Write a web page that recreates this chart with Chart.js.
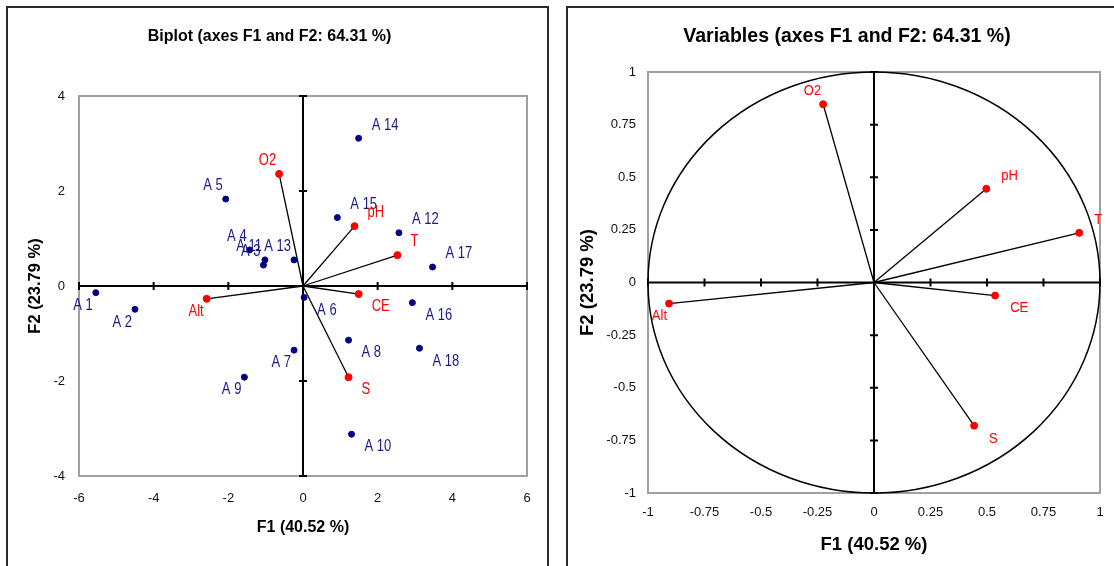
<!DOCTYPE html>
<html>
<head>
<meta charset="utf-8">
<title>PCA biplot</title>
<script src="https://cdn.jsdelivr.net/npm/chart.js@4.4.1/dist/chart.umd.min.js"></script>
<style>
    html, body { margin: 0; padding: 0; background: #fff; }
    body { width: 1114px; height: 566px; position: relative; overflow: hidden; }
    .panel { position: absolute; border: 2px solid #2a2a2a; box-sizing: border-box; }
    #leftPanel { left: 6px; top: 6px; width: 543px; height: 620px; }
    #rightPanel { left: 566px; top: 6px; width: 620px; height: 620px; }
    #biplot { position: absolute; left: 0; top: 0; }
    #circle { position: absolute; left: 557px; top: 0; }
</style>
</head>
<body>
<div class="panel" id="leftPanel"></div>
<div class="panel" id="rightPanel"></div>
<canvas id="biplot" width="557" height="566"></canvas>
<canvas id="circle" width="600" height="566"></canvas>
<script>
// Observations (factor scores on F1 / F2)
const obsLabels = ['A 1', 'A 2', 'A 3', 'A 4', 'A 5', 'A 6', 'A 7', 'A 8', 'A 9',
                   'A 10', 'A 11', 'A 12', 'A 13', 'A 14', 'A 15', 'A 16', 'A 17', 'A 18'];
const obsF1 = [-5.55, -4.50, -1.06, -1.43, -2.07, 0.03, -0.24, 1.22, -1.57,
               1.30, -1.02, 2.57, -0.24, 1.49, 0.92, 2.93, 3.47, 3.12];
const obsF2 = [-0.14, -0.49, 0.44, 0.76, 1.83, -0.24, -1.35, -1.14, -1.92,
               -3.12, 0.55, 1.12, 0.55, 3.11, 1.44, -0.35, 0.40, -1.31];

// Variables: position in the biplot and in the correlation circle
const varLabels = ['pH', 'T', 'CE', 'O2', 'S', 'Alt'];
const varBiF1 = [1.38, 2.53, 1.49, -0.64, 1.22, -2.58];
const varBiF2 = [1.26, 0.65, -0.17, 2.36, -1.92, -0.27];
const varCorF1 = [0.497, 0.908, 0.536, -0.225, 0.443, -0.907];
const varCorF2 = [0.445, 0.236, -0.062, 0.847, -0.680, -0.100];

// Tick values
const biplotXTicks = [-6, -4, -2, 0, 2, 4, 6];
const biplotYTicks = [-4, -2, 0, 2, 4];
const circleTicks = [-1, -0.75, -0.5, -0.25, 0, 0.25, 0.5, 0.75, 1];

const SANS = '"Liberation Sans", Arial, sans-serif';

// frame, zero axes with tick marks, optional unit circle, point labels
const pcaDecor = {
    id: 'pcaDecor',
    beforeDatasetsDraw(chart, args, opts) {
        const { ctx, chartArea: a, scales: { x, y } } = chart;
        const x0 = x.getPixelForValue(0);
        const y0 = y.getPixelForValue(0);
        ctx.save();
        ctx.strokeStyle = '#a0a0a0';
        ctx.lineWidth = 2;
        ctx.strokeRect(a.left, a.top, a.width, a.height);

        if (opts.circle) {
            const rx = x.getPixelForValue(1) - x0;
            const ry = y0 - y.getPixelForValue(1);
            ctx.beginPath();
            ctx.ellipse(x0, y0, rx, ry, 0, 0, Math.PI * 2);
            ctx.strokeStyle = '#000';
            ctx.lineWidth = 1.5;
            ctx.stroke();
        }

        ctx.strokeStyle = '#000';
        ctx.lineWidth = 2;
        ctx.beginPath();
        ctx.moveTo(a.left, y0);
        ctx.lineTo(a.right, y0);
        ctx.moveTo(x0, a.top);
        ctx.lineTo(x0, a.bottom);
        x.ticks.forEach(t => {
            const px = x.getPixelForValue(t.value);
            ctx.moveTo(px, y0 - 4);
            ctx.lineTo(px, y0 + 4);
        });
        y.ticks.forEach(t => {
            const py = y.getPixelForValue(t.value);
            ctx.moveTo(x0 - 4, py);
            ctx.lineTo(x0 + 4, py);
        });
        ctx.stroke();
        ctx.restore();
    },
    afterDatasetsDraw(chart, args, opts) {
        const ctx = chart.ctx;
        chart.data.datasets.forEach((ds, di) => {
            if (!ds.labels) return;
            const meta = chart.getDatasetMeta(di);
            meta.data.forEach((el, i) => {
                const v = ds.data[i];
                const left = v.x < 0;
                const tx = el.x + (left ? -opts.leftGap : opts.rightGap);
                const ty = el.y + (v.y >= 0 ? -opts.vGap : opts.vGap);
                // the original labels look slightly stretched vertically
                ctx.save();
                ctx.translate(tx, ty);
                ctx.scale(1, opts.stretch || 1);
                ctx.fillStyle = ds.labelColor;
                ctx.font = ds.labelFont;
                ctx.textBaseline = 'middle';
                ctx.textAlign = left ? 'right' : 'left';
                ctx.fillText(ds.labels[i], 0, 0);
                ctx.restore();
            });
        });
    }
};

function vectorDatasets(xs, ys) {
    return xs.map((vx, i) => ({
        data: [{ x: 0, y: 0 }, { x: vx, y: ys[i] }],
        showLine: true,
        borderColor: '#000',
        borderWidth: 1.3,
        pointRadius: 0
    }));
}

function tickSetter(values) {
    return scale => { scale.ticks = values.map(v => ({ value: v })); };
}

// Left chart: biplot
new Chart(document.getElementById('biplot'), {
    type: 'scatter',
    data: {
        datasets: [
            {
                data: obsF1.map((v, i) => ({ x: v, y: obsF2[i] })),
                labels: obsLabels,
                labelColor: '#1a1a8c',
                labelFont: '13px ' + SANS,
                backgroundColor: '#000080',
                borderColor: '#000080',
                pointRadius: 3
            },
            {
                data: varBiF1.map((v, i) => ({ x: v, y: varBiF2[i] })),
                labels: varLabels,
                labelColor: '#ff0000',
                labelFont: '13px ' + SANS,
                backgroundColor: '#ff0000',
                borderColor: '#ff0000',
                pointRadius: 3.5
            },
            ...vectorDatasets(varBiF1, varBiF2)
        ]
    },
    options: {
        responsive: false,
        animation: false,
        layout: { padding: { left: 12, right: 30, top: 0, bottom: 20 } },
        plugins: {
            legend: { display: false },
            tooltip: { enabled: false },
            title: {
                display: true,
                text: 'Biplot (axes F1 and F2: 64.31 %)',
                color: '#000',
                font: { family: SANS, size: 16, weight: 'bold' },
                padding: { top: 27.4, bottom: 49.4 }
            },
            pcaDecor: { circle: false, leftGap: 3, rightGap: 13, vGap: 13, stretch: 1.2 }
        },
        scales: {
            x: {
                type: 'linear', min: -6, max: 6,
                afterBuildTicks: tickSetter(biplotXTicks),
                ticks: { padding: 15, color: '#111', font: { family: SANS, size: 13 }, callback: v => String(v) },
                grid: { display: false, drawTicks: false },
                border: { display: false },
                title: { display: true, text: 'F1 (40.52 %)', color: '#000',
                         font: { family: SANS, size: 16, weight: 'bold' }, padding: { top: 0, bottom: 8.4 } },
                afterFit: s => { s.height = 70; }
            },
            y: {
                type: 'linear', min: -4, max: 4,
                afterBuildTicks: tickSetter(biplotYTicks),
                ticks: { padding: 14, color: '#111', font: { family: SANS, size: 13 }, callback: v => String(v) },
                grid: { display: false, drawTicks: false },
                border: { display: false },
                title: { display: true, text: 'F2 (23.79 %)', color: '#000',
                         font: { family: SANS, size: 16.5, weight: 'bold' }, padding: { top: 13.1, bottom: 0 } },
                afterFit: s => { s.width = 67; }
            }
        }
    },
    plugins: [pcaDecor]
});

// Right chart: correlation circle
new Chart(document.getElementById('circle'), {
    type: 'scatter',
    data: {
        datasets: [
            {
                data: varCorF1.map((v, i) => ({ x: v, y: varCorF2[i] })),
                labels: varLabels,
                labelColor: '#ff0000',
                labelFont: '13px ' + SANS,
                backgroundColor: '#ff0000',
                borderColor: '#ff0000',
                pointRadius: 3.5
            },
            ...vectorDatasets(varCorF1, varCorF2)
        ]
    },
    options: {
        responsive: false,
        animation: false,
        layout: { padding: { left: 0, right: 20, top: 0, bottom: 7 } },
        plugins: {
            legend: { display: false },
            tooltip: { enabled: false },
            title: {
                display: true,
                text: 'Variables (axes F1 and F2: 64.31 %)',
                color: '#000',
                font: { family: SANS, size: 19.5, weight: 'bold' },
                padding: { top: 25.3, bottom: 23.3 }
            },
            pcaDecor: { circle: true, leftGap: 2, rightGap: 15, vGap: 13, stretch: 1.1 }
        },
        scales: {
            x: {
                type: 'linear', min: -1, max: 1,
                afterBuildTicks: tickSetter(circleTicks),
                ticks: { padding: 12, color: '#111', font: { family: SANS, size: 13 }, callback: v => String(v) },
                grid: { display: false, drawTicks: false },
                border: { display: false },
                title: { display: true, text: 'F1 (40.52 %)', color: '#000',
                         font: { family: SANS, size: 18.5, weight: 'bold' }, padding: { top: 0, bottom: 3 } },
                afterFit: s => { s.height = 66; }
            },
            y: {
                type: 'linear', min: -1, max: 1,
                afterBuildTicks: tickSetter(circleTicks),
                ticks: { padding: 12, color: '#111', font: { family: SANS, size: 13 }, callback: v => String(v) },
                grid: { display: false, drawTicks: false },
                border: { display: false },
                title: { display: true, text: 'F2 (23.79 %)', color: '#000',
                         font: { family: SANS, size: 18.5, weight: 'bold' }, padding: { top: 20, bottom: 0 } },
                afterFit: s => { s.width = 91; }
            },
            // empty right-hand axis, only reserves room so the title centres like the original
            yRight: {
                type: 'linear', position: 'right', display: true,
                ticks: { display: false },
                grid: { display: false, drawTicks: false },
                border: { display: false },
                afterFit: s => { s.width = 37; }
            }
        }
    },
    plugins: [pcaDecor]
});
</script>
</body>
</html>
